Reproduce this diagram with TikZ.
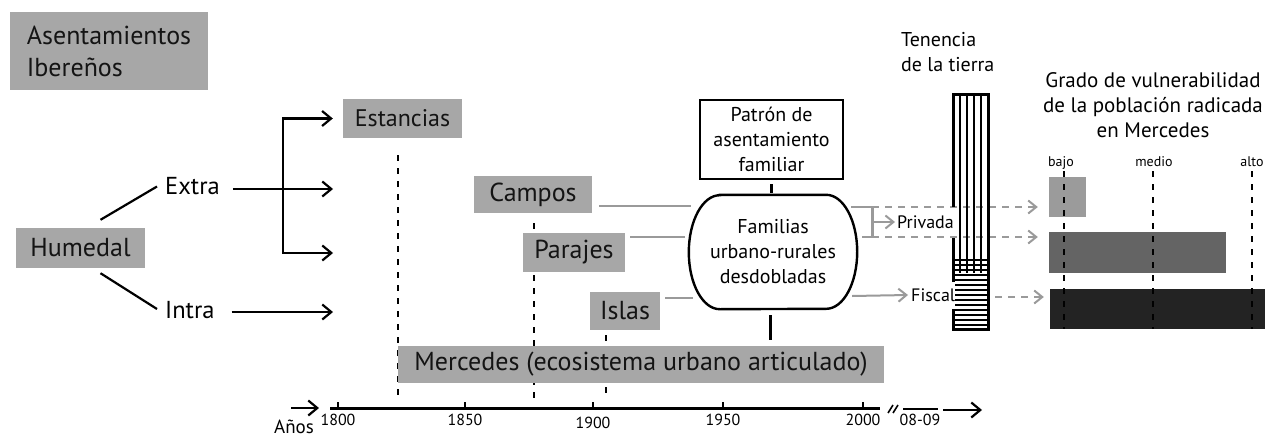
\documentclass[tikz,border=0pt]{standalone}
\usepackage{fontspec}
\setmainfont{PT Sans}
\usetikzlibrary{arrows.meta,calc,backgrounds}
\definecolor{boxgray}{HTML}{A7A7A7}
\definecolor{linegray}{HTML}{9A9A9A}
\definecolor{barlow}{HTML}{9B9B9B}
\definecolor{barmid}{HTML}{646464}
\definecolor{barhigh}{HTML}{232323}
\tikzset{
  graybox/.style={fill=boxgray, inner sep=0pt, text=black!92},
  big/.style={font=\fontsize{26}{32}\selectfont},
  mid/.style={font=\fontsize{20}{25}\selectfont},
  lbl/.style={inner sep=0pt, font=\fontsize{24.5}{28}\selectfont},
  small/.style={inner sep=0pt, font=\fontsize{18}{20}\selectfont},
  yr/.style={inner sep=0pt, font=\fontsize{16}{18}\selectfont},
  blk/.style={line width=2.2pt},
  tip/.style={-{Straight Barb[length=9pt,width=15pt]}},
  arr/.style={blk, tip},
  gline/.style={linegray, line width=2.6pt},
  garr/.style={linegray, line width=2pt, -{Straight Barb[length=8pt,width=13pt]}},
  gdash/.style={garr, dash pattern=on 7pt off 6pt},
  tdash/.style={line width=2pt, dash pattern=on 6pt off 7pt},
  bar/.style={inner sep=0pt},
}
\begin{document}
\begin{tikzpicture}[x=1pt, y=-1pt]
\useasboundingbox (0,0) rectangle (1266,439);

% left side
\node[graybox, big, align=left, minimum width=198, minimum height=78] (asent) at (109,51) {Asentamientos\\Ibereños};
\node[graybox, big, minimum width=129, minimum height=40] (hum) at (80.5,248) {Humedal};
\node[lbl, anchor=west] (extra) at (165,186.5) {Extra};
\node[lbl, anchor=west] (intra) at (165,310) {Intra};
\draw[blk] ([shift={(20,-8)}]hum.north) -- ([shift={(-8,0)}]extra.west);
\draw[blk] ([shift={(20,5)}]hum.south) -- ([shift={(-8,-1)}]intra.west);

\node[graybox, font=\fontsize{24}{28}\selectfont, minimum width=119, minimum height=39] (est) at (402.5,118.5) {Estancias};
\node[graybox, big, minimum width=118, minimum height=37] (campos) at (533,194.5) {Campos};
\node[graybox, big, minimum width=102, minimum height=39] (parajes) at (574,252.5) {Parajes};
\node[graybox, big, minimum width=70, minimum height=38] (islas) at (625,311) {Islas};
\node[graybox, big, minimum width=486, minimum height=37] (merc) at (641,364.5) {Mercedes (ecosistema urbano articulado)};

\coordinate (fork) at (283,253);
\coordinate (tipM) at (333,253);
\coordinate (tipX) at (333,189);
\coordinate (tipI) at (333,312);
\draw[blk, {Straight Barb[length=9pt,width=15pt]}-{Straight Barb[length=9pt,width=15pt]}] ([xshift=-10]est.west) -| (fork) -- (tipM);
\draw[arr] ([shift={(13,2.5)}]extra.east) -- (tipX);
\draw[arr] ([shift={(17,2)}]intra.east) -- (tipI);

% time marks
\coordinate (ax0) at (330,408);
\begin{scope}[on background layer]
\draw[tdash] ([shift={(-4.5,17)}]est.south) -- ($(est.south |- ax0)+(-4.5,-10)$);
\draw[tdash] ([shift={(1,10)}]campos.south) -- ($(campos.south |- ax0)+(1,-10)$);
\draw[tdash] ([shift={(-19,5)}]islas.south) -- ($(islas.south |- ax0)+(-19,-10)$);
\end{scope}

% family pattern
\node[draw, line width=2.8pt, mid, align=center, inner sep=0pt, minimum width=143, minimum height=79] (pat) at (771.5,139.5) {Patrón de\\asentamiento\\familiar};
\node[mid, align=center, inner sep=0pt, minimum width=168, minimum height=114] (fam) at (773,252) {Familias\\urbano-rurales\\desdobladas};
\draw[line width=2.4pt] ([xshift=31]fam.north west) -- ([xshift=-31]fam.north east)
  arc[start angle=-90, end angle=90, x radius=31, y radius=57]
  -- ([xshift=31]fam.south west)
  arc[start angle=90, end angle=270, x radius=31, y radius=57] -- cycle;
\draw[line width=3pt] ([shift={(0,4)}]pat.south) -- ([shift={(-1.5,-2)}]fam.north);
\draw[line width=3pt] ([shift={(-3,6)}]fam.south) -- ($(fam.south |- merc.north)+(-3,-6)$);

\draw[gline] ([shift={(7,11.5)}]campos.east) -- ([shift={(2,-46)}]fam.west);
\draw[gline] ([shift={(5,-15.5)}]parajes.east) -- ([shift={(-4,-15)}]fam.west);
\draw[gline] ([shift={(5,-13)}]islas.east) -- ([shift={(4,46)}]fam.west);

% land tenure
\node[mid, align=left, anchor=north west, inner sep=0pt] (ten) at (901,32) {Tenencia\\de la tierra};
\node[small, anchor=west] (priv) at (897,222) {Privada};
\node[small, anchor=west] (fisc) at (911,295) {Fiscal};
\coordinate (barR) at (988,297);
\draw[gline] ([shift={(-6,-45)}]fam.east) -| ([shift={(15,-15)}]fam.east) -- ([shift={(5,-15)}]fam.east);
\draw[garr] ([shift={(15,-30)}]fam.east) -- ([xshift=-2]priv.west);
\draw[garr] ([shift={(-5,44)}]fam.east) -- ([xshift=-3]fisc.west);

% vulnerability
\node[bar, fill=barlow, minimum width=37, minimum height=40] (vlow) at (1067.5,197) {};
\node[bar, fill=barmid, minimum width=177, minimum height=41] (vmid) at (1137.5,252.5) {};
\node[bar, fill=barhigh, minimum width=215, minimum height=40] (vhigh) at (1157.5,309) {};
\draw[gdash] ([shift={(15,-45)}]fam.east) -- ([shift={(-11,10)}]vlow.west);
\draw[gdash] ([shift={(15,-15)}]fam.east) -- ([shift={(-11,-15.5)}]vmid.west);
\draw[gdash] ([xshift=7]barR) -- ([shift={(-6,-12)}]vhigh.west);

\foreach \x in {960,967,974,981}
  \draw[line width=1.4pt] (\x,94) -- (\x,273);
\foreach \y in {260,265,...,325}
  \draw[line width=1.4pt] (955,\y) -- (988,\y);
\draw[line width=3pt] (953,207) -- (953,94) -- (988,94) -- (988,329) -- (953,329) -- (953,309) (953,282) -- (953,238);

\node[font=\fontsize{21}{25}\selectfont, align=center, anchor=north, inner sep=0pt] (grado) at (1153,72) {Grado de vulnerabilidad\\de la población radicada\\en Mercedes};
\foreach \x/\lv in {1061/bajo,1154/medio,1252/alto}
  \node[anchor=base, inner sep=0pt, font=\fontsize{14}{16}\selectfont] (lv\lv) at (\x,166) {\lv};
\foreach \x in {1064,1153,1252}
  \draw[tdash] (\x,171) -- (\x,329);

% years axis
\draw[line width=3pt] (ax0) -- (880,408);
\foreach \x/\y/\yr in {338/420/1800,465/420/1850,593/423/1900,723/420/1950,863/420/2000} {
  \draw[line width=2pt] (\x,402) -- (\x,408);
  \node[yr] (y\yr) at (\x,\y) {\yr};
}
\draw[line width=1.6pt] (888,413) -- (893,405) (893,413) -- (898,405);
\draw[line width=2pt] (903,409) -- (938,409);
\node[yr] (y0809) at (920,420) {08-09};
\draw[arr] (943,410) -- (982,410);
\draw[arr] (291,408) -- (319,408);
\node[inner sep=0pt, font=\fontsize{19}{20}\selectfont] (anos) at (294,427) {Años};
\end{tikzpicture}
\end{document}
